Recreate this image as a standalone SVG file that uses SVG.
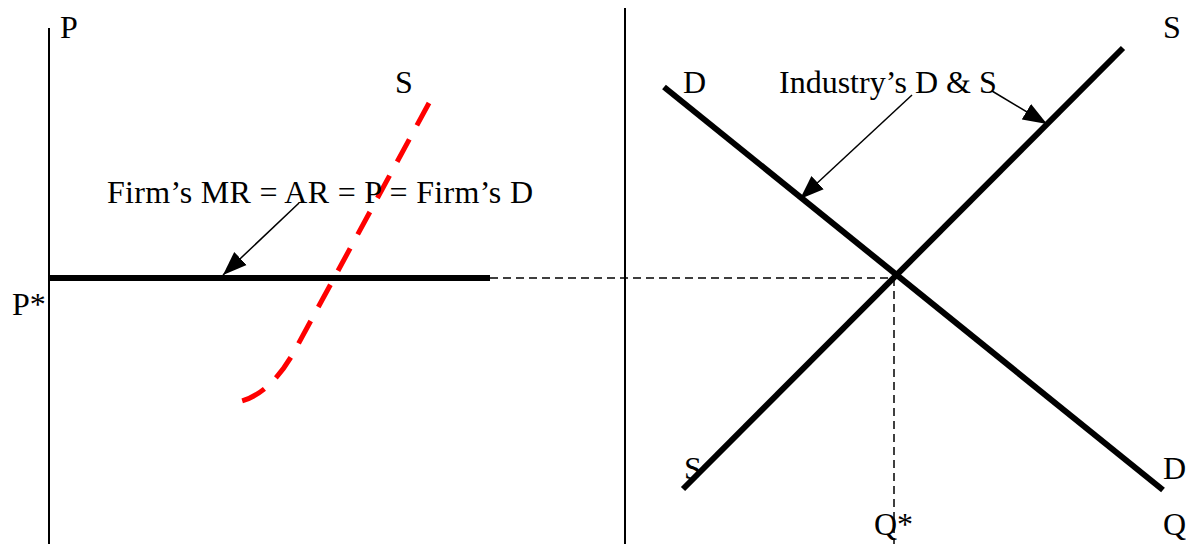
<svg xmlns="http://www.w3.org/2000/svg" width="1186" height="544" viewBox="0 0 1186 544">
<defs>
<style>
.t{font-family:"Liberation Serif","Times New Roman",serif;font-size:32px;fill:#000}
.axis{stroke:#000;stroke-width:2;fill:none}
.curve{stroke:#000;stroke-width:6;fill:none}
.guide{stroke:#000;stroke-width:1.5;stroke-dasharray:8 5;fill:none}
.ptr{stroke:#000;stroke-width:1.5;fill:none}
.red{stroke:#ff0000;stroke-width:5;fill:none;stroke-dasharray:71.4 44.6}
</style>
<marker id="ah" markerUnits="userSpaceOnUse" markerWidth="26" markerHeight="20" viewBox="0 0 26 20" refX="24" refY="10" orient="auto">
<path d="M0,1 L24,10 L0,19 Z" fill="#000"/>
</marker>
</defs>
<rect width="1186" height="544" fill="#fff"/>
<g id="axes">
<line class="axis" x1="49" y1="28" x2="49" y2="544"/>
<line class="axis" x1="625" y1="8" x2="625" y2="544"/>
</g>
<g id="firm-demand">
<line class="curve" x1="49" y1="278" x2="490" y2="278"/>
</g>
<g id="firm-supply">
<path class="red" pathLength="1000" d="M429,103 L295,350 Q272,392 242,401"/>
</g>
<g id="industry-demand">
<line class="curve" x1="664" y1="87" x2="1163" y2="490"/>
</g>
<g id="industry-supply">
<line class="curve" x1="683" y1="489" x2="1123" y2="48"/>
</g>
<g id="connectors">
<line class="guide" x1="490" y1="278" x2="895" y2="278"/>
<line class="guide" x1="894" y1="278" x2="894" y2="544"/>
<line class="ptr" x1="299" y1="203" x2="223" y2="275" marker-end="url(#ah)"/>
<line class="ptr" x1="912" y1="95" x2="800" y2="199" marker-end="url(#ah)"/>
<line class="ptr" x1="992" y1="91" x2="1047" y2="124" marker-end="url(#ah)"/>
</g>
<g id="labels">
<text class="t" x="60" y="38">P</text>
<text class="t" x="12" y="315">P*</text>
<text class="t" x="395" y="93">S</text>
<text class="t" x="107" y="203" textLength="426" lengthAdjust="spacing">Firm’s MR = AR = P = Firm’s D</text>
<text class="t" x="683" y="93">D</text>
<text class="t" x="779" y="93">Industry’s D &amp; S</text>
<text class="t" x="1163" y="38">S</text>
<text class="t" x="684" y="479">S</text>
<text class="t" x="1163" y="479">D</text>
<text class="t" x="874" y="535">Q*</text>
<text class="t" x="1163" y="535">Q</text>
</g>
</svg>
